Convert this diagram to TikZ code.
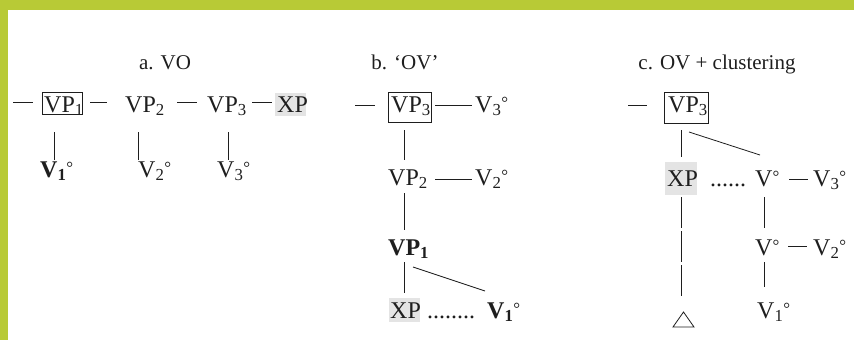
\documentclass[tikz,border=0pt]{standalone}
\usepackage{fontspec}
\setmainfont{Liberation Serif}
\definecolor{frame}{HTML}{B8CA36}
\definecolor{ink}{HTML}{1E1E1E}
\definecolor{shadegray}{HTML}{E4E4E4}
\newcommand{\dg}{\raisebox{4pt}{\fontsize{17}{17}\selectfont °}}
\newcommand{\Vsub}[1]{V\textsubscript{#1}\dg}
\newcommand{\VPsub}[1]{VP\textsubscript{#1}}
\begin{document}
\begin{tikzpicture}[x=1pt,y=-1pt,
  lbl/.style={anchor=base west, inner sep=0pt, font=\fontsize{24}{28}\selectfont, text=ink},
  ttl/.style={anchor=base, inner sep=0pt, font=\fontsize{21}{25}\selectfont, text=ink},
  ln/.style={draw=ink, line width=0.8pt},
  boxed/.style={draw=ink, line width=0.8pt},
  xpshade/.style={fill=shadegray}]
\useasboundingbox (0,0) rectangle (854,340);
\fill[frame] (0,0) rectangle (854,10);
\fill[frame] (0,0) rectangle (8,340);

% titles
\node[ttl] (ta) at (165,69) {a. VO};
\node[ttl] (tb) at (405,69) {b. ‘OV’};
\node[ttl] (tc) at (717,69) {c. OV + clustering};

% ---------- panel a ----------
\fill[xpshade] (275,93) rectangle (306,116);
\draw[boxed] (42,92) rectangle (82,114);
\node[lbl] (aVP1) at (44,112) {\VPsub{1}};
\node[lbl] (aVP2) at (125,112) {\VPsub{2}};
\node[lbl] (aVP3) at (207,112) {\VPsub{3}};
\node[lbl] (aXP) at (277,112) {XP};
\node[lbl] (aV1) at (40,177) {\textbf{V\textsubscript{1}}\dg};
\node[lbl] (aV2) at (138,177) {\Vsub{2}};
\node[lbl] (aV3) at (217,177) {\Vsub{3}};
\coordinate (ad0a) at (13,102); \coordinate (ad0b) at (33,102);
\coordinate (ad1a) at (90,102); \coordinate (ad1b) at (107,102);
\coordinate (ad2a) at (177,102); \coordinate (ad2b) at (197,102);
\coordinate (ad3a) at (252,102); \coordinate (ad3b) at (272,102);
\draw[ln] (ad0a) -- (ad0b);
\draw[ln] (ad1a) -- (ad1b);
\draw[ln] (ad2a) -- (ad2b);
\draw[ln] (ad3a) -- (ad3b);
\draw[ln] (54,132) -- (54,160);
\draw[ln] (138,132) -- (138,160);
\draw[ln] (228,132) -- (228,160);

% ---------- panel b ----------
\fill[xpshade] (389,298) rectangle (420,322);
\draw[boxed] (388,92) rectangle (431,122);
\node[lbl] (bVP3) at (391,112) {\VPsub{3}};
\node[lbl] (bV3) at (475,112) {\Vsub{3}};
\node[lbl] (bVP2) at (388,185) {\VPsub{2}};
\node[lbl] (bV2) at (475,185) {\Vsub{2}};
\node[lbl] (bVP1) at (388,255) {\textbf{VP\textsubscript{1}}};
\node[lbl] (bXP) at (390,318) {XP};
\node[lbl] (bdots) at (427,318) {........};
\node[lbl] (bV1) at (487,318) {\textbf{V\textsubscript{1}}\dg};
\draw[ln] (355,105) -- (375,105);
\draw[ln] (435,105) -- (472,105);
\draw[ln] (404,130) -- (404,160);
\draw[ln] (435,179) -- (472,179);
\draw[ln] (404,193) -- (404,230);
\draw[ln] (404,262) -- (404,293);
\draw[ln] (413,267) -- (485,291);

% ---------- panel c ----------
\fill[xpshade] (665,162) rectangle (697,195);
\draw[boxed] (664,92) rectangle (708,123);
\node[lbl] (cVP3) at (668,112) {\VPsub{3}};
\node[lbl] (cXP) at (667,186) {XP};
\node[lbl] (cdots) at (710,186) {......};
\node[lbl] (cVa) at (755,186) {V\dg};
\node[lbl] (cV3) at (813,186) {\Vsub{3}};
\node[lbl] (cVb) at (755,255) {V\dg};
\node[lbl] (cV2) at (813,255) {\Vsub{2}};
\node[lbl] (cV1) at (757,318) {\Vsub{1}};
\draw[ln] (628,105) -- (647,105);
\draw[ln] (681,130) -- (681,157);
\draw[ln] (689,132) -- (760,155);
\draw[ln, dash pattern=on 31pt off 3pt] (681,197) -- (681,297);
\draw[ln] (673,327) -- (694,327) -- (683.5,312) -- cycle;
\draw[ln] (789,179) -- (808,179);
\draw[ln] (764,197) -- (764,228);
\draw[ln] (788,246) -- (807,246);
\draw[ln] (764,262) -- (764,287);
\end{tikzpicture}
\end{document}
